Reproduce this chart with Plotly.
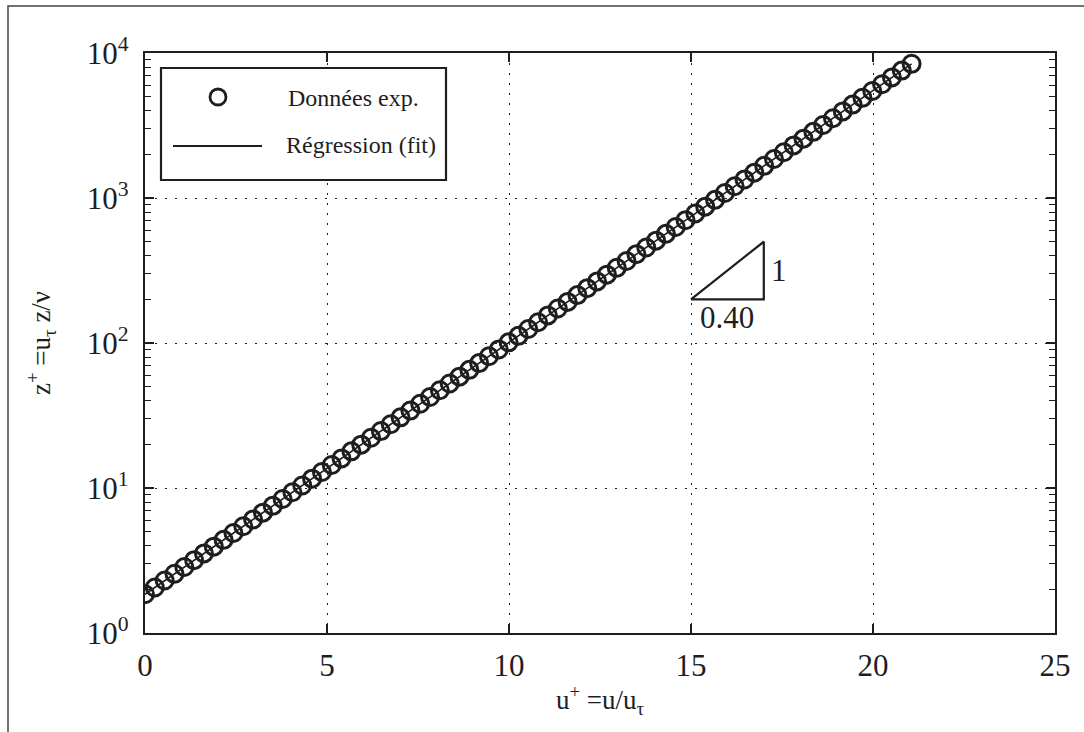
import plotly.graph_objects as go

# Mean velocity profile: u+ versus z+ (log scale)
u_plus = [0.00, 0.27, 0.54, 0.81, 1.08, 1.35, 1.62, 1.89, 2.16, 2.43,
          2.70, 2.97, 3.24, 3.51, 3.78, 4.05, 4.32, 4.59, 4.86, 5.13,
          5.40, 5.67, 5.94, 6.21, 6.48, 6.75, 7.02, 7.29, 7.56, 7.83,
          8.10, 8.37, 8.64, 8.91, 9.18, 9.45, 9.72, 9.99, 10.26, 10.53,
          10.80, 11.07, 11.34, 11.61, 11.88, 12.15, 12.42, 12.69, 12.96, 13.23,
          13.50, 13.77, 14.04, 14.31, 14.58, 14.85, 15.12, 15.39, 15.66, 15.93,
          16.20, 16.47, 16.74, 17.01, 17.28, 17.55, 17.82, 18.09, 18.36, 18.63,
          18.90, 19.17, 19.44, 19.71, 19.98, 20.25, 20.52, 20.79, 21.06]
z_plus = [1.85, 2.06, 2.30, 2.56, 2.85, 3.18, 3.54, 3.94, 4.39, 4.89,
          5.45, 6.07, 6.76, 7.53, 8.39, 9.35, 10.4, 11.6, 12.9, 14.4,
          16.0, 17.9, 19.9, 22.2, 24.7, 27.5, 30.7, 34.2, 38.1, 42.4,
          47.2, 52.6, 58.6, 65.3, 72.7, 81.0, 90.3, 101, 112, 125,
          139, 155, 173, 192, 214, 239, 266, 296, 330, 368,
          410, 456, 508, 566, 631, 703, 783, 872, 971, 1082,
          1206, 1343, 1496, 1667, 1857, 2069, 2305, 2567, 2860, 3186,
          3549, 3955, 4406, 4908, 5468, 6091, 6786, 7560, 8422]

# Fitted log law (end points of the regression line)
fit_u = [0.0, 21.06]
fit_z = [1.85, 8422]

# Slope triangle (kappa = 0.40)
tri_u = [15, 17, 17, 15]
tri_z = [200, 200, 500, 200]

x_ticks = [0, 5, 10, 15, 20, 25]
y_ticks = [1, 10, 100, 1000, 10000]
y_ticktext = ["10<sup>0</sup>", "10<sup>1</sup>", "10<sup>2</sup>",
              "10<sup>3</sup>", "10<sup>4</sup>"]
y_minor = [m * 10 ** k for k in range(4) for m in range(2, 10)]

SERIF = "Liberation Serif"
INK = "#1e1e1e"

fig = go.Figure()

fig.add_trace(go.Scatter(
    x=fit_u, y=fit_z, mode="lines",
    line=dict(color=INK, width=1.6),
    name="Régression (fit)", showlegend=False, hoverinfo="skip"))

fig.add_trace(go.Scatter(
    x=u_plus, y=z_plus, mode="markers",
    marker=dict(symbol="circle-open", size=17, color=INK,
                line=dict(color=INK, width=3)),
    name="Données exp.", showlegend=False))

fig.add_trace(go.Scatter(
    x=tri_u, y=tri_z, mode="lines",
    line=dict(color=INK, width=2.2),
    showlegend=False, hoverinfo="skip"))

# Figure-level geometry in pixels
W, H = 1084, 732
ML, MR, MT, MB = 145, 29, 53, 99
PW, PH = W - ML - MR, H - MT - MB


def px(x):
    return (x - ML) / PW


def py(y):
    return (H - MB - y) / PH


shapes = [
    # outer frame
    dict(type="rect", xref="paper", yref="paper",
         x0=px(8), x1=px(1100), y0=py(6), y1=py(760),
         line=dict(color="#444444", width=1.5), layer="below"),
    # legend box
    dict(type="rect", xref="paper", yref="paper",
         x0=px(161), x1=px(446), y0=py(68), y1=py(180),
         line=dict(color=INK, width=2.2), fillcolor="white", layer="above"),
    # legend line sample
    dict(type="line", xref="paper", yref="paper",
         x0=px(173), x1=px(262), y0=py(146), y1=py(146),
         line=dict(color=INK, width=1.8)),
    # legend marker sample
    dict(type="circle", xref="paper", yref="paper",
         x0=px(210), x1=px(226), y0=py(89), y1=py(105),
         line=dict(color=INK, width=2.8)),
]

annotations = [
    dict(xref="paper", yref="paper", x=px(286), y=py(98),
         text="Données exp.", showarrow=False, xanchor="left", yanchor="middle",
         font=dict(family=SERIF, size=24, color=INK)),
    dict(xref="paper", yref="paper", x=px(284), y=py(145),
         text="Régression (fit)", showarrow=False, xanchor="left", yanchor="middle",
         font=dict(family=SERIF, size=24, color=INK)),
    dict(x=17.15, y=2.50, text="1", showarrow=False, xanchor="left", yanchor="middle",
         font=dict(family=SERIF, size=31, color=INK)),
    dict(x=16.0, y=2.31, text="0.40", showarrow=False, xanchor="center", yanchor="top",
         font=dict(family=SERIF, size=31, color=INK)),
]

fig.update_layout(
    width=W, height=H,
    margin=dict(l=ML, r=MR, t=MT, b=MB, pad=0),
    paper_bgcolor="white", plot_bgcolor="white",
    shapes=shapes, annotations=annotations,
    font=dict(family=SERIF, color=INK),
)

fig.update_xaxes(
    range=[0, 25], tickvals=x_ticks, ticktext=[str(v) for v in x_ticks],
    showline=True, linecolor=INK, linewidth=2.4, mirror="ticks",
    ticks="inside", ticklen=9, tickwidth=1.5, tickcolor=INK,
    showgrid=True, gridcolor=INK, gridwidth=1.2, griddash="2px,8px",
    zeroline=False,
    ticklabelstandoff=4,
    tickfont=dict(family=SERIF, size=31, color=INK),
    title=dict(text="u<sup>+</sup> =u/u<sub>τ</sub>", standoff=8,
               font=dict(family=SERIF, size=27, color=INK)),
)

fig.update_yaxes(
    type="log", range=[0, 4], tickvals=y_ticks, ticktext=y_ticktext,
    showline=True, linecolor=INK, linewidth=2.4, mirror="ticks",
    ticks="inside", ticklen=9, tickwidth=1.5, tickcolor=INK,
    showgrid=True, gridcolor=INK, gridwidth=1.2, griddash="2px,8px",
    zeroline=False,
    minor=dict(tickvals=y_minor, ticks="inside", ticklen=6, tickwidth=1.2,
               tickcolor=INK, showgrid=False),
    ticklabelstandoff=8,
    tickfont=dict(family=SERIF, size=31, color=INK),
    title=dict(text="z<sup>+</sup> =u<sub>τ</sub> z/ν", standoff=28,
               font=dict(family=SERIF, size=27, color=INK)),
)

fig.write_html("out.html")
